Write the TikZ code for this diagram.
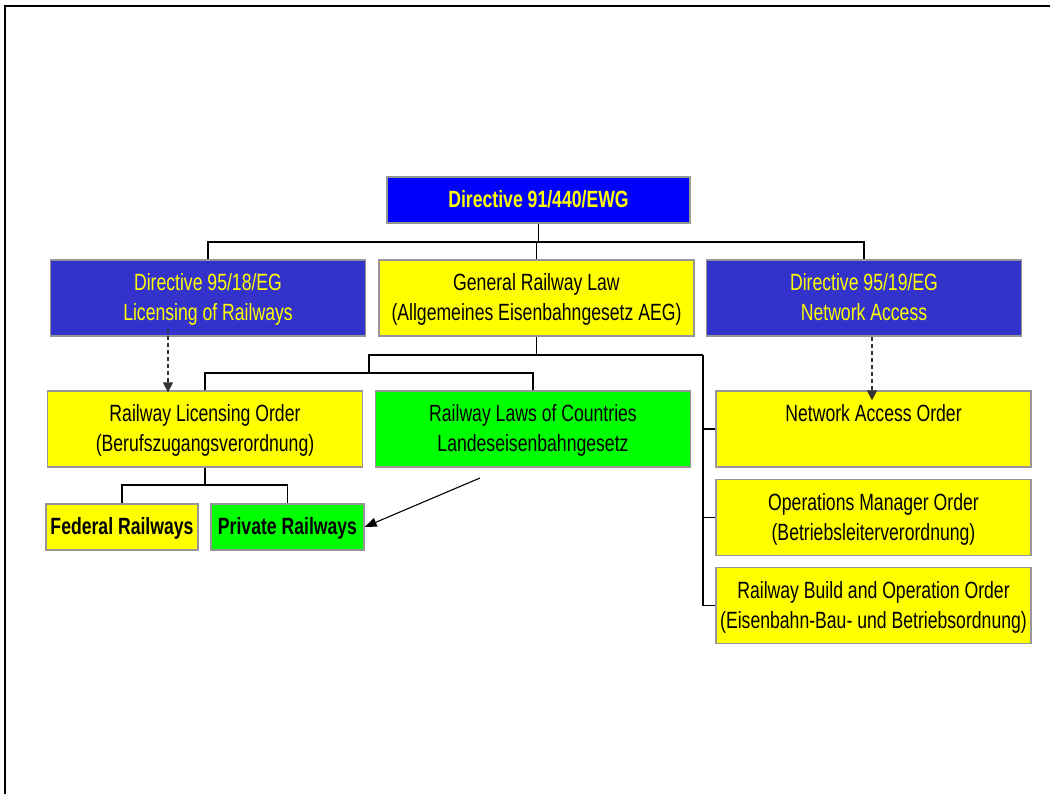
\documentclass[tikz,border=0pt]{standalone}
\usepackage{fontspec}
\setmainfont{Liberation Sans}[FakeStretch=0.75]
\usetikzlibrary{arrows.meta,calc}
\definecolor{pblue}{RGB}{0,0,255}
\definecolor{dblue}{RGB}{51,51,204}
\definecolor{pyellow}{RGB}{255,255,0}
\definecolor{pgreen}{RGB}{0,255,0}
\definecolor{boxgray}{RGB}{150,150,150}
\newcommand{\mystrut}{\rule[-7.5pt]{0pt}{30pt}}
\begin{document}
\begin{tikzpicture}[x=1pt,y=-1pt,
  box/.style={draw=boxgray, line width=1.3pt, minimum width=315pt, minimum height=76pt,
    align=center, inner sep=0pt, font=\fontsize{23.5}{30}\selectfont},
  ybox/.style={box, fill=pyellow, text=black},
  gbox/.style={box, fill=pgreen, text=black},
  bbox/.style={box, fill=dblue, text=pyellow},
  smallbox/.style={minimum width=152pt, minimum height=46pt, font=\fontsize{23.5}{30}\selectfont\bfseries},
  conn/.style={line width=1.2pt, black},
  dashconn/.style={line width=1.2pt, black!80, dash pattern=on 4pt off 3pt, -{Triangle[length=10pt,width=10pt]}},
  arr/.style={line width=1.1pt, black, -{Triangle[length=12pt,width=9pt]}}
]
\useasboundingbox (0,0) rectangle (1050,794);
\draw[line width=2pt] (4.5,794) -- (4.5,6) -- (1050,6);

\node[box, fill=pblue, text=pyellow, minimum width=303pt, minimum height=46pt, font=\fontsize{23.5}{30}\selectfont\bfseries] (top) at (538.5,200) {\mystrut Directive 91/440/EWG};

\node[bbox] (lic) at (208,298) {\mystrut Directive 95/18/EG\\\mystrut Licensing of Railways};
\node[ybox] (aeg) at (536.5,298) {\mystrut General Railway Law\\\mystrut (Allgemeines Eisenbahngesetz AEG)};
\node[bbox] (dir19) at (864,298) {\mystrut Directive 95/19/EG\\\mystrut Network Access};

\node[ybox] (rlo) at (205,429) {\mystrut Railway Licensing Order\\\mystrut (Berufszugangsverordnung)};
\node[gbox] (rlc) at (533,429) {\mystrut Railway Laws of Countries\\\mystrut Landeseisenbahngesetz};
\node[ybox] (nao) at (873.5,429) {\mystrut Network Access Order\\\mystrut};
\node[ybox] (omo) at (873.5,517.5) {\mystrut Operations Manager Order\\\mystrut (Betriebsleiterverordnung)};
\node[ybox] (rbo) at (873.5,605.5) {\mystrut Railway Build and Operation Order\\\mystrut (Eisenbahn-Bau- und Betriebsordnung)};

\node[ybox, smallbox] (fed) at (122,527) {\mystrut Federal Railways};
\node[gbox, smallbox, minimum width=153pt] (priv) at (287.5,527) {\mystrut Private Railways};

% top tree
\coordinate (j1) at (538.5,242);
\draw[conn] (top.south) -- (j1);
\draw[conn] (lic.north) |- (j1) -| (dir19.north);
\draw[conn] (aeg.north) -- (aeg.north |- j1);

% middle tree
\coordinate (j2) at (369,355);
\coordinate (j3) at (703,355);
\coordinate (j4) at (369,373);
\draw[conn] (aeg.south) -- (aeg.south |- j2);
\draw[conn] (j4) -- (j2) -- (j3);
\draw[conn] (rlo.north) |- (j4) -| (rlc.north);
\draw[conn] (j3) |- (rbo.west);
\draw[conn] (j3 |- nao.west) -- (nao.west);
\draw[conn] (j3 |- omo.west) -- (omo.west);

% licensing order tree
\coordinate (j5) at (205,485);
\draw[conn] (rlo.south) -- (j5);
\draw[conn] (fed.north) |- (j5) -| (priv.north);

% dashed arrows
\draw[dashconn] ([xshift=-40pt,yshift=8pt]lic.south) -- ([xshift=-37pt,yshift=-2pt]rlo.north);
\draw[dashconn] ([xshift=8pt]dir19.south) -- ([xshift=-1.5pt,yshift=-10pt]nao.north);

% solid arrow
\coordinate (s1) at (480,478);
\draw[arr] (s1) -- (priv.east);
\end{tikzpicture}
\end{document}
